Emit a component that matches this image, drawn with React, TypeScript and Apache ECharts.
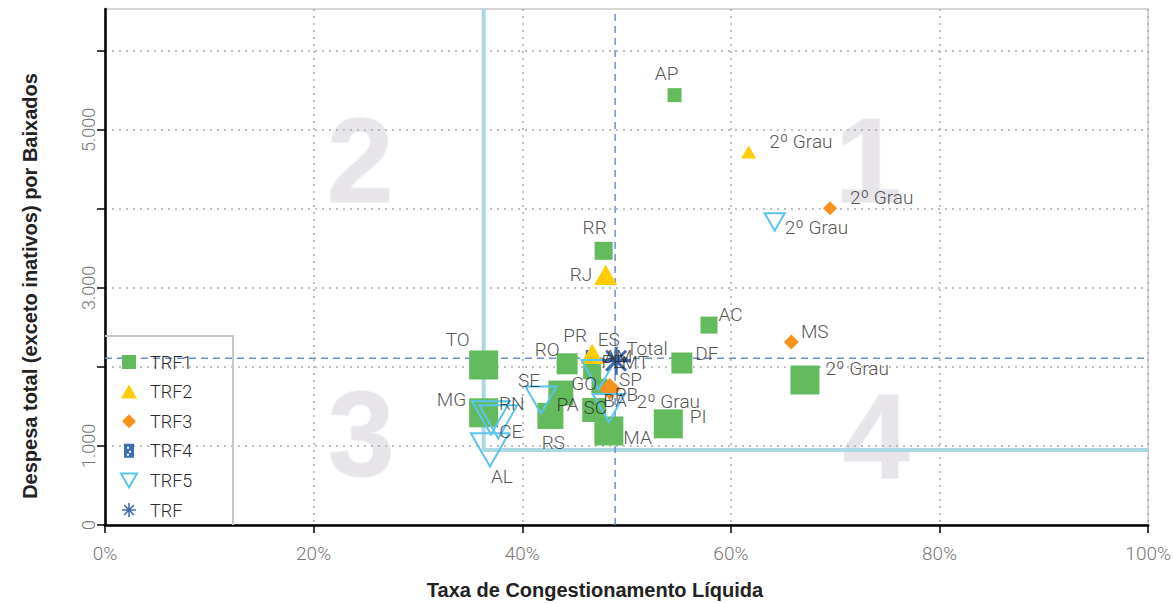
import React, { useEffect, useRef } from 'react';
import * as echarts from 'echarts';

// ---------- DATA ----------
const trf1Names = ['AP', 'RR', 'AC', 'DF', '2º Grau', 'PI', 'MA', 'TO', 'MG', 'RO', 'GO', 'PA', 'BA', 'AM', 'MT'];
const trf1X = [54.6, 47.8, 57.9, 55.3, 67.1, 54.0, 48.3, 36.3, 36.3, 44.3, 43.7, 42.7, 46.9, 46.7, 47.4];
const trf1Y = [5440, 3470, 2530, 2050, 1835, 1280, 1190, 2025, 1420, 2040, 1670, 1380, 1455, 1960, 1750];
const trf1Size = [14, 18, 17, 21, 29, 29, 29, 29, 29, 21, 25, 26, 24, 18, 16];

const trf2Names = ['2º Grau', 'RJ', 'ES'];
const trf2X = [61.7, 48.0, 46.7];
const trf2Y = [4720, 3165, 2165];
const trf2Size = [15, 23, 23];

const trf3Names = ['2º Grau', 'MS', 'SP'];
const trf3X = [69.5, 65.8, 48.4];
const trf3Y = [4010, 2315, 1720];
const trf3Size = [14, 15, 22];

const trf4Names = ['PR', 'SC', 'RS', '2º Grau'];
const trf4X = [46.5, 47.0, 42.7, 54.0];
const trf4Y = [2140, 1455, 1380, 1280];
const trf4Size = [12, 12, 12, 12];

const trf5Names = ['2º Grau', 'SE', 'RN', 'CE', 'AL', 'PE', 'PB'];
const trf5X = [64.2, 41.8, 37.0, 37.7, 36.9, 47.3, 48.3];
const trf5Y = [3835, 1580, 1355, 1305, 950, 1900, 1480];
const trf5Size = [20, 31, 38, 38, 38, 34, 32];

const trfNames = ['Total'];
const trfX = [49.0];
const trfY = [2080];
const trfSize = [28];

const avgX = 48.9;
const avgY = 2110;
const frontierX = 36.3;
const frontierY = 950;

const legendNames = ['TRF1', 'TRF2', 'TRF3', 'TRF4', 'TRF5', 'TRF'];
const yLabelValues = [0, 1000, 3000, 5000];
const yTickValues = [0, 1000, 2000, 3000, 4000, 5000, 6000];
const quadrantTexts = ['1', '2', '3', '4'];
const xTitle = 'Taxa de Congestionamento Líquida';
const yTitle = 'Despesa total (exceto inativos) por Baixados';

// ---------- STYLE ----------
const SQUARE = 'path://M0,0L10,0L10,10L0,10Z';
const TRI_UP = 'path://M8,0L16,14L0,14Z';
const TRI_DOWN = 'path://M0,0L16,0L8,14Z';
const DIAMOND = 'path://M7,0L14,7L7,14L0,7Z';
const RECT4 = 'path://M0,0L10,0L10,14L0,14Z M3,3L3,5L5,5L5,3Z M5,7L5,9L7,9L7,7Z M3,10L3,12L5,12L5,10Z';
const ASTER =
  'path://M-1.1,-10L1.1,-10L1.1,10L-1.1,10Z M-10,-1.1L10,-1.1L10,1.1L-10,1.1Z ' +
  'M-7.849,-6.293L-6.293,-7.849L7.849,6.293L6.293,7.849Z ' +
  'M6.293,-7.849L7.849,-6.293L-6.293,7.849L-7.849,6.293Z';

const labelPlacement: Record<string, [string, number, number]> = {
  'TRF1|AP': ['top', -8, 0],
  'TRF1|RR': ['top', -9, 0],
  'TRF1|AC': ['right', -4, -11],
  'TRF1|DF': ['right', -2, -10],
  'TRF1|2º Grau': ['right', 1, -11],
  'TRF1|PI': ['right', 2, -7],
  'TRF1|MA': ['right', -5, 7],
  'TRF1|TO': ['top', -26, 4],
  'TRF1|MG': ['left', 2, -13],
  'TRF1|RO': ['left', 8, -14],
  'TRF1|GO': ['right', -7, -10],
  'TRF1|PA': ['right', -12, -11],
  'TRF1|BA': ['right', -8, -10],
  'TRF1|AM': ['right', -2, -14],
  'TRF1|MT': ['right', 9, -24],
  'TRF2|2º Grau': ['right', 8, -11],
  'TRF2|RJ': ['left', 3, 0],
  'TRF2|ES': ['right', -11, -14],
  'TRF3|2º Grau': ['right', 8, -11],
  'TRF3|MS': ['right', -3, -11],
  'TRF3|SP': ['right', -7, -10],
  'TRF4|PR': ['top', -15, 0],
  'TRF4|SC': ['inside', 0, -3],
  'TRF4|RS': ['bottom', 3, 6],
  'TRF4|2º Grau': ['top', 0, -2],
  'TRF5|2º Grau': ['right', -5, 6],
  'TRF5|SE': ['top', -12, 8],
  'TRF5|RN': ['right', -16, -14],
  'TRF5|CE': ['right', -23, 10],
  'TRF5|AL': ['bottom', 12, -5],
  'TRF5|PE': ['right', -19, -13],
  'TRF5|PB': ['right', -15, -14],
  'TRF|Total': ['right', -9, -12],
};

const groups = [
  { name: 'TRF1', names: trf1Names, xs: trf1X, ys: trf1Y, sizes: trf1Size, symbol: SQUARE, z: 3,
    itemStyle: { color: '#63bb5e', opacity: 1 } },
  { name: 'TRF2', names: trf2Names, xs: trf2X, ys: trf2Y, sizes: trf2Size, symbol: TRI_UP, z: 4,
    itemStyle: { color: '#ffcc00', opacity: 1 } },
  { name: 'TRF3', names: trf3Names, xs: trf3X, ys: trf3Y, sizes: trf3Size, symbol: DIAMOND, z: 4,
    itemStyle: { color: '#f7921e', opacity: 1 } },
  { name: 'TRF4', names: trf4Names, xs: trf4X, ys: trf4Y, sizes: trf4Size, symbol: RECT4, z: 2,
    itemStyle: { color: '#3b6db4', opacity: 1 } },
  { name: 'TRF5', names: trf5Names, xs: trf5X, ys: trf5Y, sizes: trf5Size, symbol: TRI_DOWN, z: 5,
    itemStyle: { color: 'rgba(255,255,255,0)', borderColor: '#5ac4ef', borderWidth: 2, opacity: 1 } },
  { name: 'TRF', names: trfNames, xs: trfX, ys: trfY, sizes: trfSize, symbol: ASTER, z: 6,
    itemStyle: { color: '#4169b0', opacity: 1 } },
];

const LABEL_FONT = 'Roboto';

export default function App() {
  const ref = useRef<HTMLDivElement>(null);

  useEffect(() => {
    document.body.style.margin = '0';
    if (!ref.current) return;
    const chart = echarts.init(ref.current, undefined, { renderer: 'svg' });
    const yMax = 6530;

    const fmtThousands = (v: number) => String(v).replace(/\B(?=(\d{3})+(?!\d))/g, '.');

    const scatterSeries: any[] = groups.map((g) => ({
      name: g.name,
      type: 'scatter',
      z: g.z,
      silent: true,
      symbol: g.symbol,
      symbolKeepAspect: true,
      symbolSize: (v: any[]) => v[2],
      itemStyle: g.itemStyle,
      label: { show: false },
      emphasis: { disabled: true },
      data: g.names.map((n, i) => ({ name: n, value: [g.xs[i], g.ys[i], g.sizes[i]] })),
    }));

    const labelData: any[] = [];
    groups.forEach((g) => {
      g.names.forEach((n, i) => {
        const p = labelPlacement[g.name + '|' + n] || ['right', 0, 0];
        labelData.push({
          name: n,
          value: [g.xs[i], g.ys[i], g.sizes[i]],
          symbol: g.symbol,
          itemStyle: { color: 'rgba(0,0,0,0)', borderWidth: 0 },
          label: { position: p[0], offset: [p[1], p[2]] },
        });
      });
    });

    const titleStyle = { fontSize: 20, fontWeight: 'bold', fill: '#222', fontFamily: 'Liberation Sans',
      textAlign: 'center', textVerticalAlign: 'middle' };

    const option: any = {
      animation: false,
      backgroundColor: '#ffffff',
      grid: { left: 105, right: 20, top: 9, bottom: 78, show: true, borderColor: '#c8c8c8', borderWidth: 1.5 },
      legend: {
        data: legendNames,
        orient: 'vertical',
        left: 120,
        top: 353,
        padding: 0,
        itemWidth: 32,
        itemHeight: 14,
        itemGap: 11.6,
        selectedMode: false,
        textStyle: { fontSize: 18, color: '#2a2a2a', fontFamily: LABEL_FONT, fontWeight: 300 },
      },
      xAxis: {
        type: 'value',
        min: 0,
        max: 100,
        interval: 20,
        axisLine: { lineStyle: { color: '#000', width: 2.5 } },
        axisTick: { show: true, length: 8, lineStyle: { color: '#000', width: 1.5 } },
        axisLabel: { formatter: '{value}%', margin: 19, fontSize: 19, color: '#777', fontFamily: LABEL_FONT, fontWeight: 300 },
        splitLine: { show: true, lineStyle: { type: [2, 5], color: '#aaa', width: 1.5 } },
      },
      yAxis: {
        type: 'value',
        min: 0,
        max: yMax,
        interval: 1000,
        axisLine: { show: true, lineStyle: { color: '#000', width: 2.5 } },
        axisTick: { show: true, length: 8, customValues: yTickValues, lineStyle: { color: '#000', width: 1.5 } },
        axisLabel: {
          customValues: yLabelValues,
          rotate: 90,
          margin: 8,
          fontSize: 18,
          color: '#777',
          fontFamily: LABEL_FONT,
          fontWeight: 300,
          formatter: (v: number) => fmtThousands(v),
        },
        splitLine: { show: true, lineStyle: { type: [2, 5], color: '#aaa', width: 1.5 } },
      },
      series: [
        {
          name: 'frontier',
          type: 'line',
          silent: true,
          z: 1,
          symbol: 'none',
          lineStyle: { color: '#acd8e4', width: 4 },
          data: [[frontierX, yMax], [frontierX, frontierY], [100, frontierY]],
        },
        {
          name: 'avgX',
          type: 'line',
          silent: true,
          z: 1,
          symbol: 'none',
          lineStyle: { color: '#6a8fd4', width: 1.5, type: [7, 5] },
          data: [[avgX, 0], [avgX, yMax]],
        },
        {
          name: 'avgY',
          type: 'line',
          silent: true,
          z: 1,
          symbol: 'none',
          lineStyle: { color: '#6a8fd4', width: 1.5, type: [7, 5] },
          data: [[0, avgY], [100, avgY]],
        },
        ...scatterSeries,
        {
          name: 'labels',
          type: 'scatter',
          silent: true,
          z: 10,
          symbolKeepAspect: true,
          symbolSize: (v: any[]) => v[2],
          emphasis: { disabled: true },
          label: {
            show: true,
            formatter: '{b}',
            fontSize: 19,
            color: '#262626',
            fontFamily: LABEL_FONT,
            fontWeight: 300,
            distance: 5,
          },
          data: labelData,
        },
      ],
      graphic: [
        ...[
          [quadrantTexts[0], 868, 160],
          [quadrantTexts[1], 360, 160],
          [quadrantTexts[2], 361, 434],
          [quadrantTexts[3], 876, 436],
        ].map((q: any) => ({
          type: 'text',
          x: q[1],
          y: q[2],
          z: -5,
          silent: true,
          style: {
            text: q[0],
            fontSize: 120,
            fontWeight: 'bold',
            fontFamily: 'Liberation Sans',
            fill: '#e7e5e9',
            stroke: '#f3f2f5',
            lineWidth: 2,
            textAlign: 'center',
            textVerticalAlign: 'middle',
          },
        })),
        {
          type: 'polyline',
          z: 10,
          silent: true,
          shape: { points: [[105, 336], [233, 336], [233, 525]] },
          style: { stroke: '#c8c8c8', lineWidth: 2, fill: null },
        },
        { type: 'text', x: 595, y: 590, silent: true, z: 10, style: { ...titleStyle, text: xTitle } },
        { type: 'text', x: 30, y: 286, rotation: Math.PI / 2, silent: true, z: 10, style: { ...titleStyle, text: yTitle } },
      ],
    };

    chart.setOption(option);
    return () => chart.dispose();
  }, []);

  return <div ref={ref} style={{ width: 1174, height: 603 }} />;
}
